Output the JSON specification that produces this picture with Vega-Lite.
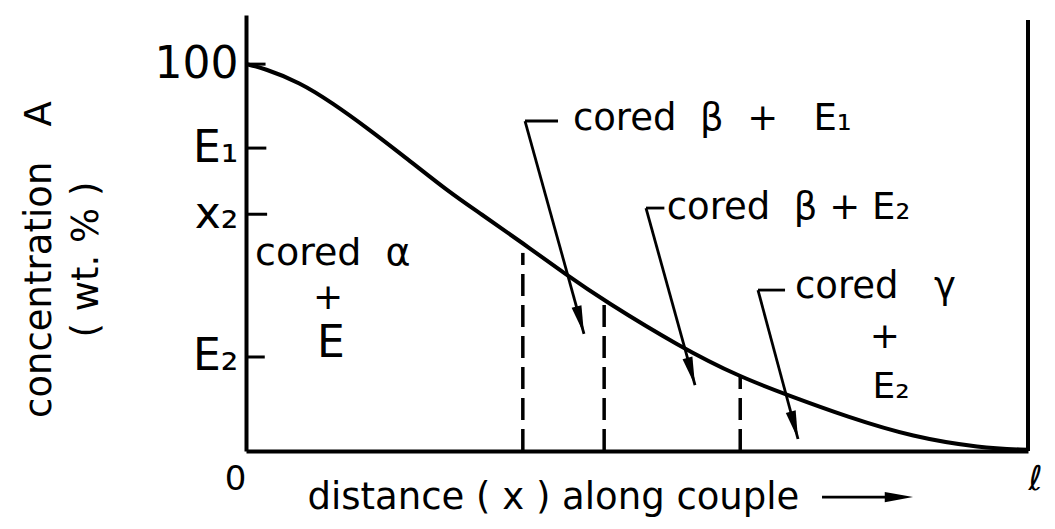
{
  "$schema": "https://vega.github.io/schema/vega-lite/v6.json",
  "width": 782,
  "height": 436,
  "autosize": {"type": "none"},
  "padding": {"left": 246, "top": 15, "right": 27, "bottom": 78},
  "background": "#ffffff",
  "config": {
    "view": {"stroke": null},
    "font": "DejaVu Sans",
    "text": {"font": "DejaVu Sans", "color": "#000000"}
  },
  "datasets": {
    "profile": [
      {"x": 0.0, "c": 100.0},
      {"x": 0.022, "c": 99.0},
      {"x": 0.069, "c": 95.3},
      {"x": 0.111, "c": 89.9},
      {"x": 0.155, "c": 83.5},
      {"x": 0.197, "c": 77.0},
      {"x": 0.261, "c": 66.7},
      {"x": 0.299, "c": 61.5},
      {"x": 0.354, "c": 53.7},
      {"x": 0.41, "c": 45.5},
      {"x": 0.457, "c": 39.0},
      {"x": 0.555, "c": 26.9},
      {"x": 0.632, "c": 19.1},
      {"x": 0.692, "c": 14.5},
      {"x": 0.769, "c": 8.8},
      {"x": 0.853, "c": 3.6},
      {"x": 0.939, "c": 0.8},
      {"x": 1.0, "c": 0.3}
    ],
    "levelTicks": [
      {"x": 0, "x2": 0.025, "c": 100},
      {"x": 0, "x2": 0.026, "c": 78.3},
      {"x": 0, "x2": 0.027, "c": 61.2},
      {"x": 0, "x2": 0.024, "c": 24.3}
    ],
    "boundaries": [
      {"x": 0.354, "c0": 0, "c": 51.2},
      {"x": 0.458, "c0": 0, "c": 39.0},
      {"x": 0.632, "c0": 0, "c": 19.1}
    ],
    "endWall": [{"x": 1.0, "c0": 0, "c": 111.4}],
    "leaders": [
      {"x": 0.3568, "c": 85.3, "x2": 0.399, "c2": 85.3},
      {"x": 0.3568, "c": 85.3, "x2": 0.4322, "c2": 30.3},
      {"x": 0.5115, "c": 62.8, "x2": 0.535, "c2": 62.8},
      {"x": 0.5115, "c": 62.8, "x2": 0.5742, "c2": 17.0},
      {"x": 0.6547, "c": 41.6, "x2": 0.6893, "c2": 41.6},
      {"x": 0.6547, "c": 41.6, "x2": 0.7059, "c2": 3.1},
      {"x": 0.7366, "c": -11.9, "x2": 0.835, "c2": -11.9}
    ],
    "heads": [
      {"x": 0.4322, "c": 30.3, "dir": 74.7},
      {"x": 0.5742, "c": 17.0, "dir": 74.5},
      {"x": 0.7059, "c": 3.1, "dir": 75.1},
      {"x": 0.853, "c": -11.9, "dir": 0}
    ],
    "phaseLabels": [
      {"x": 0.418, "c": 82.9, "label": "cored\u00a0\u00a0β\u00a0\u00a0+\u00a0\u00a0\u00a0E₁"},
      {"x": 0.538, "c": 59.9, "label": "cored\u00a0\u00a0β\u00a0+\u00a0E₂"},
      {"x": 0.702, "c": 39.5, "label": "cored\u00a0\u00a0\u00a0γ"}
    ],
    "alphaLabel": [
      {"x": 0.0115, "c": 48.1, "label": "cored\u00a0\u00a0α"}
    ],
    "stacked": [
      {"x": 0.105, "c": 39.5, "label": "+"},
      {"x": 0.817, "c": 29.5, "label": "+"},
      {"x": 0.825, "c": 16.5, "label": "E₂"}
    ],
    "bigE": [
      {"x": 0.1087, "c": 27.6, "label": "E"}
    ]
  },
  "layer": [
    {
      "data": {"name": "profile"},
      "mark": {"type": "line", "interpolate": "basis", "color": "#000000", "strokeWidth": 4},
      "encoding": {
        "x": {
          "field": "x", "type": "quantitative",
          "scale": {"domain": [0, 1], "nice": false, "zero": false},
          "axis": {
            "values": [0, 1],
            "labelExpr": "datum.value == 0 ? '0' : ' ℓ'",
            "ticks": false,
            "grid": false,
            "labelFont": "DejaVu Sans",
            "labelFontSize": 34,
            "labelColor": "#000000",
            "labelPadding": 11,
            "labelBaseline": "top",
            "labelAlign": {"condition": {"test": "datum.value == 0", "value": "right"}, "value": "left"},
            "labelFlush": false,
            "labelBound": false,
            "labelOverlap": false,
            "domainWidth": 4,
            "domainColor": "#000000",
            "title": "distance ( x ) along couple",
            "titleFont": "DejaVu Sans",
            "titleFontSize": 37,
            "titleFontWeight": "normal",
            "titleColor": "#000000",
            "titleAlign": "left",
            "titleBaseline": "alphabetic",
            "titleX": 61,
            "titleY": 57
          }
        },
        "y": {
          "field": "c", "type": "quantitative",
          "scale": {"domain": [0, 112.7], "nice": false, "zero": false},
          "axis": {
            "values": [24.3, 61.2, 78.3, 100],
            "labelExpr": "datum.value == 100 ? '100' : datum.value == 78.3 ? 'E₁' : datum.value == 61.2 ? 'x₂' : 'E₂'",
            "grid": false,
            "ticks": false,
            "labelFont": "DejaVu Sans",
            "labelFontSize": 44,
            "labelColor": "#000000",
            "labelPadding": 8,
            "labelAlign": "right",
            "labelBaseline": "middle",
            "labelOverlap": false,
            "labelFlush": false,
            "labelBound": false,
            "domainWidth": 4,
            "domainColor": "#000000",
            "title": ["concentration\u00a0\u00a0\u00a0A", "( wt. % )"],
            "titleFont": "DejaVu Sans",
            "titleFontSize": 37,
            "titleFontWeight": "normal",
            "titleColor": "#000000",
            "titleAngle": -90,
            "titleAlign": "center",
            "titleBaseline": "alphabetic",
            "titleLineHeight": 47,
            "titleX": -196,
            "titleY": 244
          }
        }
      }
    },
    {
      "data": {"name": "levelTicks"},
      "mark": {"type": "rule", "color": "#000000", "strokeWidth": 3},
      "encoding": {
        "x": {"field": "x", "type": "quantitative"},
        "x2": {"field": "x2"},
        "y": {"field": "c", "type": "quantitative"}
      }
    },
    {
      "data": {"name": "boundaries"},
      "mark": {"type": "rule", "color": "#000000", "strokeWidth": 3.5, "strokeDash": [22, 9]},
      "encoding": {
        "x": {"field": "x", "type": "quantitative"},
        "y": {"field": "c0", "type": "quantitative"},
        "y2": {"field": "c"}
      }
    },
    {
      "data": {"name": "endWall"},
      "mark": {"type": "rule", "color": "#000000", "strokeWidth": 4},
      "encoding": {
        "x": {"field": "x", "type": "quantitative"},
        "y": {"field": "c0", "type": "quantitative"},
        "y2": {"field": "c"}
      }
    },
    {
      "data": {"name": "leaders"},
      "mark": {"type": "rule", "color": "#000000", "strokeWidth": 2.8},
      "encoding": {
        "x": {"field": "x", "type": "quantitative"},
        "y": {"field": "c", "type": "quantitative"},
        "x2": {"field": "x2"},
        "y2": {"field": "c2"}
      }
    },
    {
      "data": {"name": "heads"},
      "mark": {"type": "point", "shape": "M0,0L-1,-0.18L-1,0.18Z", "filled": true, "color": "#000000", "opacity": 1, "size": 3200},
      "encoding": {
        "x": {"field": "x", "type": "quantitative"},
        "y": {"field": "c", "type": "quantitative"},
        "angle": {"field": "dir", "type": "quantitative", "scale": null}
      }
    },
    {
      "data": {"name": "phaseLabels"},
      "mark": {"type": "text", "align": "left", "baseline": "alphabetic", "fontSize": 37, "font": "DejaVu Sans", "color": "#000000"},
      "encoding": {
        "x": {"field": "x", "type": "quantitative"},
        "y": {"field": "c", "type": "quantitative"},
        "text": {"field": "label"}
      }
    },
    {
      "data": {"name": "alphaLabel"},
      "mark": {"type": "text", "align": "left", "baseline": "alphabetic", "fontSize": 38, "font": "DejaVu Sans", "color": "#000000"},
      "encoding": {
        "x": {"field": "x", "type": "quantitative"},
        "y": {"field": "c", "type": "quantitative"},
        "text": {"field": "label"}
      }
    },
    {
      "data": {"name": "stacked"},
      "mark": {"type": "text", "align": "center", "baseline": "middle", "fontSize": 36, "font": "DejaVu Sans", "color": "#000000"},
      "encoding": {
        "x": {"field": "x", "type": "quantitative"},
        "y": {"field": "c", "type": "quantitative"},
        "text": {"field": "label"}
      }
    },
    {
      "data": {"name": "bigE"},
      "mark": {"type": "text", "align": "center", "baseline": "middle", "fontSize": 44, "font": "DejaVu Sans", "color": "#000000"},
      "encoding": {
        "x": {"field": "x", "type": "quantitative"},
        "y": {"field": "c", "type": "quantitative"},
        "text": {"field": "label"}
      }
    }
  ]
}
